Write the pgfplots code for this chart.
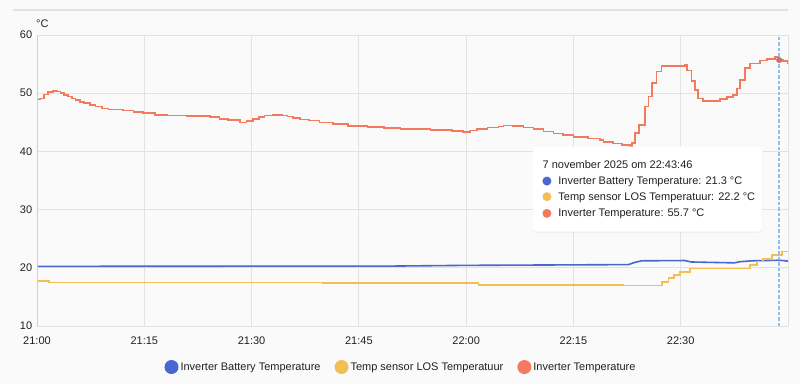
\documentclass[border=0pt]{standalone}
\usepackage{fontspec}
\setmainfont{Liberation Sans}
\usepackage{pgfplots}
\pgfplotsset{compat=1.18}
\usetikzlibrary{shadows}
\definecolor{cblue}{HTML}{4A67CF}
\definecolor{cyellow}{HTML}{F2BF55}
\definecolor{cred}{HTML}{F27A5F}
\definecolor{bg}{HTML}{FAFAFA}
\definecolor{gridc}{HTML}{E2E2E2}
\definecolor{axc}{HTML}{CFCFCF}
\definecolor{txt}{HTML}{212121}
\definecolor{ccursor}{HTML}{8CC0EC}
\definecolor{cdot}{HTML}{D0706A}
\newcommand{\tf}{\fontsize{11}{13}\selectfont}
\begin{document}
\begin{tikzpicture}[x=1pt,y=1pt]
\useasboundingbox (0,0) rectangle (800,384);
\fill[bg] (0,0) rectangle (800,384);
\draw[gridc, line width=1.5pt] (13,374) -- (788,374);
\node[anchor=west, inner sep=0pt, font=\tf, text=txt] at (36,360) {°C};
\begin{axis}[
  at={(37pt,58pt)}, anchor=south west, scale only axis,
  width=751pt, height=291pt,
  xmin=0, xmax=105, ymin=10, ymax=60,
  xtick={0,15,30,45,60,75,90},
  xticklabels={21:00,21:15,21:30,21:45,22:00,22:15,22:30},
  ytick={10,20,30,40,50,60},
  grid=major, grid style={gridc, line width=0.8pt},
  axis line style={gridc, line width=0.8pt},
  major tick length=0pt,
  tick label style={font=\tf, text=txt},
  xticklabel style={yshift=-7pt},
  yticklabel style={xshift=-1.3pt},
  /pgf/number format/assume math mode=true,
  legend columns=3,
  legend cell align=left,
  legend image code/.code={\fill[#1, draw=none] (3pt,0pt) circle (7pt);},
  legend style={at={(axis description cs:0.4847,-0.141)}, anchor=center,
    draw=none, fill=none, font=\tf, text=txt,
    /tikz/every even column/.append style={column sep=12pt}},
]
\addplot[cblue, line width=1.6pt, sharp plot] coordinates {
(0,20.25)(50,20.3)(60,20.42)(82.7,20.55)(83.5,20.9)(84.5,21.2)(90.5,21.25)
(91.5,21.0)(97.5,20.85)(98.3,21.05)(100,21.2)(103.8,21.3)(105,21.15)};
\addlegendentry{Inverter Battery Temperature}
\addplot[cyellow, line width=1.6pt, const plot] coordinates {
(0,17.7)(1.7,17.5)(20,17.45)(40,17.4)(50,17.35)(61.7,17.05)(75,17.0)(82,16.95)
(87.4,17.6)(88.3,18.2)(89.1,18.8)(89.9,19.3)(91.3,19.9)(99.7,20.5)(100.7,21.05)
(101.5,21.6)(102.8,22.2)(104.2,22.8)(105,22.8)};
\addlegendentry{Temp sensor LOS Temperatuur}
\addplot[cred, line width=1.6pt, const plot] coordinates {
(0,48.9)(0.4,49.1)(1.0,49.8)(1.5,50.2)(2.2,50.4)(2.8,50.3)(3.3,50.0)(3.8,49.7)
(4.3,49.4)(4.9,49.1)(5.4,48.8)(6.0,48.5)(6.6,48.3)(7.4,48.0)(8.2,47.7)(9.1,47.4)
(10.0,47.2)(12.0,47.05)(13.5,46.8)(14.8,46.55)(16.5,46.3)(18.2,46.15)(21,46.05)
(24.2,45.9)(25.5,45.6)(26.7,45.35)(28.4,45.0)(29.3,45.2)(30.2,45.6)(31.0,45.95)
(31.8,46.2)(33.0,46.3)(34.3,46.15)(35.0,46.0)(35.8,45.7)(36.8,45.5)(38,45.3)
(39.5,45.0)(41.4,44.7)(43.5,44.4)(46.2,44.15)(48.5,44.0)(50.8,43.85)(55,43.7)
(58,43.5)(59.6,43.35)(60.5,43.6)(61.5,43.85)(63,44.1)(64.5,44.3)(65.2,44.45)
(66.5,44.4)(68,44.1)(69.4,43.8)(70.8,43.4)(72.2,43.1)(73.5,42.8)(75.0,42.5)
(77,42.25)(78.7,42.0)(79.2,41.6)(80.5,41.35)(81.8,41.1)(82.9,40.9)
(83.2,41.4)(83.6,43.2)(84.2,44.5)(85.0,47.7)
(85.5,49.4)(86.0,51.8)(86.6,53.7)(87.3,54.7)(90.6,54.85)(90.9,53.9)(91.5,52.1)
(92.0,50.5)(92.4,49.1)(93.1,48.7)(95.5,49.0)(96.5,49.3)(97.3,49.7)(97.9,50.8)
(98.3,52.3)(99.0,54.3)(99.7,55.1)(101.1,55.6)(102.1,55.9)(103.2,56.2)(103.6,55.8)
(104.3,55.5)(105,55.1)};
\addlegendentry{Inverter Temperature}
\addplot[only marks, mark=*, mark size=2.8pt, color=cdot, mark options={fill=cdot, draw=cdot}, forget plot] coordinates {(103.77,55.7)};
\addplot[ccursor, line width=1.6pt, dash pattern=on 3.5pt off 2pt, forget plot] coordinates {(103.77,10)(103.77,60)};
\draw[axc, line width=1pt] (axis cs:0,10) -- (axis cs:0,60);
\end{axis}
\fill[white, rounded corners=4pt, drop shadow={shadow xshift=0pt, shadow yshift=-1pt, opacity=0.12}] (533,152.3) rectangle (762.3,237.3);
\node[anchor=west, inner sep=0pt, font=\tf, text=txt] at (542.5,219) {7 november 2025 om 22:43:46};
\node[anchor=west, inner sep=0pt, font=\tf, text=txt] at (542.2,202.3) {\tikz[baseline=-0.6ex]\fill[cblue] (0,0) circle (4.5pt);\hspace{7pt}Inverter Battery Temperature: 21.3 °C};
\node[anchor=west, inner sep=0pt, font=\tf, text=txt] at (542.2,186.7) {\tikz[baseline=-0.6ex]\fill[cyellow] (0,0) circle (4.5pt);\hspace{7pt}Temp sensor LOS Temperatuur: 22.2 °C};
\node[anchor=west, inner sep=0pt, font=\tf, text=txt] at (542.2,170) {\tikz[baseline=-0.6ex]\fill[cred] (0,0) circle (4.5pt);\hspace{7pt}Inverter Temperature: 55.7 °C};
\end{tikzpicture}
\end{document}
